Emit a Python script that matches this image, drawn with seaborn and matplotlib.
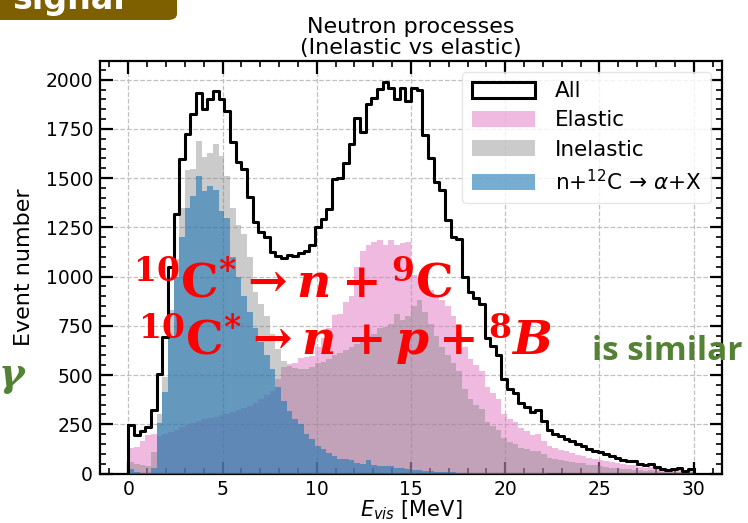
import numpy as np
import pandas as pd
import matplotlib
matplotlib.use("Agg")
import matplotlib.pyplot as plt
import seaborn as sns
from matplotlib.patches import Patch, FancyBboxPatch
from matplotlib.ticker import MultipleLocator

# ---------------- data (0.3 MeV bins from 0 to 30 MeV) ----------------
e_min, e_max, n_bins = 0.0, 30.0, 100

all_counts = [248, 195, 215, 235, 320, 506, 692, 1050, 1318, 1597,
              1724, 1825, 1935, 1850, 1900, 1942, 1900, 1843, 1682, 1581,
              1547, 1404, 1277, 1226, 1200, 1125, 1107, 1095, 1110, 1105,
              1120, 1130, 1159, 1250, 1293, 1344, 1496, 1500, 1578, 1673,
              1808, 1733, 1875, 1909, 1955, 1990, 1960, 1900, 1960, 1890,
              1960, 1950, 1720, 1600, 1480, 1440, 1290, 1200, 1190, 1000,
              920, 890, 860, 690, 650, 600, 480, 430, 410, 360,
              340, 310, 325, 265, 220, 203, 190, 177, 165, 150,
              140, 125, 115, 108, 100, 88, 78, 68, 64, 62,
              50, 42, 48, 35, 22, 20, 22, 28, 15, 25]

elastic_counts = [130, 135, 165, 195, 200, 190, 200, 210, 220, 235,
                  245, 255, 265, 275, 280, 285, 295, 300, 310, 320,
                  335, 345, 360, 380, 400, 420, 480, 540, 555, 560,
                  585, 590, 595, 640, 690, 740, 805, 810, 870, 900,
                  1050, 1128, 1162, 1178, 1187, 1160, 1187, 1160, 1170, 1175,
                  1010, 1000, 960, 930, 900, 880, 850, 800, 720, 640,
                  580, 550, 520, 440, 410, 380, 300, 275, 260, 230,
                  215, 195, 200, 165, 140, 130, 120, 112, 105, 95,
                  88, 80, 74, 70, 65, 58, 52, 46, 43, 42,
                  34, 28, 32, 24, 15, 14, 15, 18, 10, 15]

inelastic_counts = [60, 50, 45, 40, 110, 300, 490, 830, 1090, 1350,
                    1540, 1545, 1689, 1605, 1630, 1672, 1614, 1513, 1350, 1260,
                    1217, 1100, 920, 860, 800, 710, 630, 570, 545, 535,
                    530, 530, 540, 560, 565, 580, 600, 610, 625, 640,
                    660, 670, 700, 710, 740, 745, 760, 810, 780, 800,
                    850, 880, 820, 760, 700, 640, 600, 560, 520, 430,
                    380, 350, 330, 260, 240, 220, 180, 160, 150, 130,
                    125, 115, 115, 100, 80, 75, 70, 65, 60, 55,
                    52, 45, 41, 38, 35, 30, 26, 22, 21, 20,
                    16, 14, 16, 11, 7, 6, 7, 10, 5, 10]

alpha_counts = [25, 10, 5, 5, 30, 255, 414, 700, 1000, 1200,
                1350, 1410, 1512, 1435, 1462, 1440, 1335, 1300, 1100, 1000,
                900, 820, 740, 670, 600, 530, 440, 370, 318, 275,
                250, 200, 175, 140, 123, 106, 90, 75, 73, 70,
                55, 48, 70, 45, 40, 38, 36, 30, 26, 22,
                20, 18, 15, 12, 10, 8, 7, 6, 5, 4,
                3, 3, 3, 2, 2, 2, 2, 1, 1, 1,
                1, 1, 1, 1, 0, 0, 0, 0, 0, 0,
                0, 0, 0, 0, 0, 0, 0, 0, 0, 0,
                0, 0, 0, 0, 0, 0, 0, 0, 0, 0]

series_labels = ["All", "Elastic", "Inelastic", r"n+$^{12}$C → $\alpha$+X"]
title_text = "Neutron processes\n(Inelastic vs elastic)"
x_label = r"$E_{vis}$ [MeV]"
y_label = "Event number"

# ---------------- styling ----------------
plt.rcParams["font.family"] = ["DejaVu Sans"]
plt.rcParams["mathtext.fontset"] = "dejavusans"
plt.rcParams["mathtext.rm"] = "DejaVu Serif:bold"
plt.rcParams["mathtext.it"] = "DejaVu Serif:italic:bold"
plt.rcParams["mathtext.bf"] = "DejaVu Serif:bold"

pink = "#e377c2"
grey = "#7f7f7f"
blue = "#1f77b4"

edges = np.linspace(e_min, e_max, n_bins + 1)
centers = 0.5 * (edges[:-1] + edges[1:])
df = pd.DataFrame({"E": centers, "All": all_counts, "Elastic": elastic_counts,
                   "Inelastic": inelastic_counts, "Alpha": alpha_counts})

fig = plt.figure(figsize=(7.48, 5.23), dpi=100)
ax = fig.add_axes([100 / 748, 1 - 473.5 / 523, 622 / 748, 412.5 / 523])

hist_kw = dict(data=df, x="E", bins=n_bins, binrange=(e_min, e_max), element="step", ax=ax)
sns.histplot(weights="Elastic", fill=True, color=pink, alpha=0.5, linewidth=0,
             edgecolor="none", zorder=2, **hist_kw)
sns.histplot(weights="Inelastic", fill=True, color=grey, alpha=0.4, linewidth=0,
             edgecolor="none", zorder=3, **hist_kw)
sns.histplot(weights="Alpha", fill=True, color=blue, alpha=0.6, linewidth=0,
             edgecolor="none", zorder=4, **hist_kw)
sns.histplot(weights="All", fill=False, color="black", linewidth=2.2, zorder=5, **hist_kw)
ax.vlines([edges[0], edges[-1]], 0, [all_counts[0], all_counts[-1]],
          color="black", linewidth=2.2, zorder=5)

ax.set_xlim(-1.5, 31.5)
ax.set_ylim(0, 2095)
ax.xaxis.set_major_locator(MultipleLocator(5))
ax.xaxis.set_minor_locator(MultipleLocator(1))
ax.yaxis.set_major_locator(MultipleLocator(250))
ax.yaxis.set_minor_locator(MultipleLocator(50))
ax.tick_params(which="both", direction="in", top=True, right=True, labelsize=13.5)
ax.tick_params(which="major", length=9, width=1.6, pad=5)
ax.tick_params(which="minor", length=4.5, width=1.2)
for s in ax.spines.values():
    s.set_linewidth(1.6)
ax.grid(True, which="major", linestyle="--", color="#c0c0c0", linewidth=0.9)
ax.set_axisbelow(True)

ax.set_title(title_text, fontsize=16, linespacing=1.05, pad=5)
ax.set_xlabel(x_label, fontsize=15, labelpad=-1)
ax.set_ylabel(y_label, fontsize=16, labelpad=8)

handles = [Patch(facecolor="white", edgecolor="black", linewidth=2.2, label=series_labels[0]),
           Patch(facecolor=pink, alpha=0.5, edgecolor="none", label=series_labels[1]),
           Patch(facecolor=grey, alpha=0.4, edgecolor="none", label=series_labels[2]),
           Patch(facecolor=blue, alpha=0.6, edgecolor="none", label=series_labels[3])]
leg = ax.legend(handles=handles, loc="upper right", fontsize=15.5, frameon=True,
                framealpha=0.8, edgecolor="#e0e0e0", fancybox=True,
                handlelength=2.9, handleheight=0.75, handletextpad=0.95,
                labelspacing=0.42, borderpad=0.45, borderaxespad=0.5)
leg.set_zorder(10)

# ---------------- slide overlays ----------------
tab = FancyBboxPatch((-0.02, 1 - 20 / 523), 192 / 748, 0.08,
                     boxstyle="round,pad=0,rounding_size=0.012",
                     transform=fig.transFigure, facecolor="#7f6000",
                     edgecolor="none", zorder=20)
fig.patches.append(tab)
fig.text(12 / 748, 1 - 9 / 523, "signal", color="white", fontsize=24,
         fontweight="bold", va="baseline", ha="left", zorder=21)

fig.text(133 / 748, 1 - 298 / 523, r"$^{10}\mathrm{C}^{*}\rightarrow n+{}^{9}\mathrm{C}$",
         color="red", fontsize=34, math_fontfamily="custom", va="baseline", zorder=30)
fig.text(138 / 748, 1 - 355 / 523, r"$^{10}\mathrm{C}^{*}\rightarrow n+p+{}^{8}B$",
         color="red", fontsize=34, math_fontfamily="custom", va="baseline", zorder=30)
fig.text(592 / 748, 1 - 360 / 523, "is similar", color="#548235", fontsize=24,
         fontweight="bold", family=["Open Sans", "DejaVu Sans"], va="baseline", zorder=30)
fig.text(-1 / 748, 1 - 386 / 523, "γ", color="#548235", fontsize=28,
         fontweight="bold", fontstyle="italic", family=["DejaVu Serif"],
         va="baseline", zorder=30)

fig.savefig("out.png", dpi=100)
